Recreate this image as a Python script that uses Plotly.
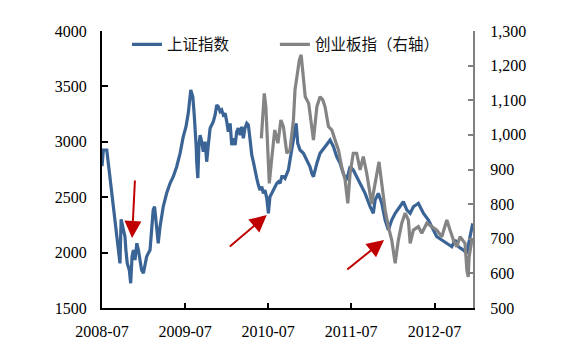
import plotly.graph_objects as go

# 上证指数 (left axis)
sh_dates = [
    "2008-07-01", "2008-07-07", "2008-07-22", "2008-07-29", "2008-08-05", "2008-08-13", "2008-08-20",
    "2008-08-27", "2008-09-04", "2008-09-11", "2008-09-18", "2008-09-23", "2008-10-03", "2008-10-10",
    "2008-10-14", "2008-10-20", "2008-10-29", "2008-11-04", "2008-11-10", "2008-11-16", "2008-11-23",
    "2008-12-01", "2008-12-08", "2008-12-15", "2008-12-22", "2008-12-30", "2009-01-06", "2009-01-13",
    "2009-01-20", "2009-01-28", "2009-02-04", "2009-02-11", "2009-02-17", "2009-02-22", "2009-02-26",
    "2009-03-05", "2009-03-13", "2009-03-27", "2009-04-11", "2009-04-26", "2009-05-10", "2009-05-25",
    "2009-06-09", "2009-06-23", "2009-07-05", "2009-07-15", "2009-07-26", "2009-08-04", "2009-08-10",
    "2009-08-14", "2009-08-19", "2009-08-21", "2009-08-26", "2009-08-31", "2009-09-05", "2009-09-12",
    "2009-09-19", "2009-09-27", "2009-10-04", "2009-10-11", "2009-10-19", "2009-11-02", "2009-11-10",
    "2009-11-17", "2009-11-24", "2009-12-02", "2009-12-09", "2009-12-16", "2009-12-24", "2009-12-31",
    "2010-01-07", "2010-01-15", "2010-01-22", "2010-01-29", "2010-02-06", "2010-02-13", "2010-02-20",
    "2010-02-28", "2010-03-07", "2010-03-14", "2010-03-21", "2010-03-29", "2010-04-05", "2010-04-12",
    "2010-04-20", "2010-04-27", "2010-05-04", "2010-05-12", "2010-05-19", "2010-05-26", "2010-06-03",
    "2010-06-10", "2010-06-17", "2010-06-25", "2010-07-02", "2010-07-09", "2010-07-17", "2010-07-24",
    "2010-07-31", "2010-08-08", "2010-08-15", "2010-08-22", "2010-08-30", "2010-09-06", "2010-09-13",
    "2010-09-21", "2010-09-28", "2010-10-05", "2010-10-13", "2010-10-20", "2010-10-27", "2010-11-01",
    "2010-11-08", "2010-11-18", "2010-12-03", "2010-12-18", "2011-01-01", "2011-01-09", "2011-01-16",
    "2011-01-31", "2011-02-14", "2011-03-08", "2011-03-30", "2011-04-14", "2011-04-28", "2011-05-13",
    "2011-05-27", "2011-06-11", "2011-06-26", "2011-07-10", "2011-08-01", "2011-08-16", "2011-08-31",
    "2011-09-22", "2011-10-06", "2011-10-14", "2011-10-28", "2011-11-12", "2011-11-27", "2011-12-11",
    "2011-12-26", "2012-01-10", "2012-02-01", "2012-02-15", "2012-03-01", "2012-03-16", "2012-03-30",
    "2012-04-21", "2012-05-13", "2012-06-04", "2012-06-26", "2012-07-11", "2012-08-02", "2012-08-24",
    "2012-09-15", "2012-09-29", "2012-10-14", "2012-11-05", "2012-11-20", "2012-12-04", "2012-12-16",
]
sh_values = [
    2780, 2926, 2926, 2806, 2655, 2505, 2414,
    2264, 2144, 2053, 1903, 2300, 2204, 2144,
    2023, 1903, 1843, 1723, 1963, 2023, 1933,
    2084, 2023, 1903, 1843, 1813, 1903, 1963,
    1993, 2023, 2204, 2385, 2414, 2324, 2204,
    2084, 2234, 2414, 2535, 2625, 2685, 2775,
    2896, 3046, 3136, 3257, 3468, 3407, 3250,
    3152, 2950, 2820, 2673, 2970, 3060, 3001,
    2911, 3001, 2820, 2971, 3122, 3182, 3242,
    3332, 3317, 3272, 3287, 3242, 3257, 3182,
    3091, 3167, 2971, 3031, 2971, 3091, 3122,
    3061, 3136, 3031, 3122, 3167, 3152, 3031,
    2881, 2820, 2730, 2670, 2610, 2565, 2595,
    2535, 2565, 2490, 2355, 2505, 2535, 2565,
    2595, 2625, 2640, 2625, 2685, 2685, 2670,
    2715, 2746, 2836, 2926, 3016, 3107, 3167,
    2986, 2926, 2896, 2836, 2775, 2715, 2685,
    2806, 2896, 2956, 3016, 2956, 2866, 2806,
    2715, 2655, 2775, 2746, 2655, 2595, 2535,
    2414, 2354, 2475, 2535, 2445, 2294, 2204,
    2294, 2355, 2414, 2459, 2385, 2355, 2414,
    2445, 2355, 2294, 2204, 2144, 2114, 2084,
    2053, 2114, 2053, 2023, 1993, 2144, 2264,
]

# 创业板指 (right axis)
cy_dates = [
    "2010-06-01", "2010-06-08", "2010-06-14", "2010-06-21", "2010-06-28", "2010-07-02", "2010-07-06",
    "2010-07-16", "2010-07-30", "2010-08-13", "2010-08-26", "2010-09-06", "2010-09-21", "2010-10-05",
    "2010-10-20", "2010-10-27", "2010-11-05", "2010-11-15", "2010-11-23", "2010-12-01", "2010-12-11",
    "2010-12-26", "2011-01-16", "2011-01-31", "2011-02-14", "2011-02-26", "2011-03-08", "2011-03-23",
    "2011-04-07", "2011-04-21", "2011-05-06", "2011-05-20", "2011-06-04", "2011-06-16", "2011-06-26",
    "2011-07-10", "2011-07-25", "2011-08-09", "2011-08-23", "2011-09-07", "2011-09-22", "2011-09-29",
    "2011-10-06", "2011-10-21", "2011-10-31", "2011-11-12", "2011-11-27", "2011-12-11", "2011-12-26",
    "2012-01-10", "2012-01-24", "2012-02-08", "2012-02-23", "2012-03-08", "2012-03-16", "2012-03-30",
    "2012-04-21", "2012-05-06", "2012-05-28", "2012-06-19", "2012-07-11", "2012-08-02", "2012-08-24",
    "2012-09-07", "2012-09-22", "2012-10-07", "2012-10-21", "2012-11-12", "2012-11-20", "2012-11-26",
    "2012-11-30", "2012-12-12", "2012-12-16",
]
cy_values = [
    990, 1060, 1120, 1081, 966, 870, 860,
    927, 1014, 976, 1043, 1024, 947, 956,
    1043, 1130, 1168, 1216, 1231, 1178, 1110,
    1091, 985, 1081, 1110, 1101, 1081, 1024,
    1014, 985, 956, 908, 870, 802, 889,
    947, 947, 899, 937, 889, 820, 800,
    831, 889, 922, 860, 783, 735, 696,
    629, 696, 745, 774, 754, 687, 725,
    735, 716, 745, 735, 725, 706, 754,
    725, 696, 677, 706, 687, 610, 590,
    648, 696, 700,
]

# red arrows (tail -> head)
arrow_tail_dates = ["2008-11-23", "2010-01-07", "2011-06-07"]
arrow_tail_values = [2664, 2044, 1837]
arrow_head_dates = ["2008-11-10", "2010-06-25", "2011-11-22"]
arrow_head_values = [2132, 2339, 2114]

x_range = ["2008-07-01", "2012-12-17"]
left_range = [1500, 4000]
right_range = [500, 1300]

BLUE = "#3A6495"
GRAY = "#848484"
RED = "#C00000"
SERIF = "Liberation Serif"
tick_font = dict(family=SERIF, size=16, color="#000000")
legend_font = dict(family="Noto Sans CJK SC", size=15.5, color="#111111")

fig = go.Figure()
fig.add_trace(go.Scatter(x=sh_dates, y=sh_values, name="上证指数", mode="lines",
                         line=dict(color=BLUE, width=3.2), yaxis="y", legend="legend"))
fig.add_trace(go.Scatter(x=cy_dates, y=cy_values, name="创业板指（右轴）", mode="lines",
                         line=dict(color=GRAY, width=3.2), yaxis="y2", legend="legend2"))

for td, tv, hd, hv in zip(arrow_tail_dates, arrow_tail_values, arrow_head_dates, arrow_head_values):
    fig.add_annotation(x=hd, y=hv, ax=td, ay=tv, xref="x", yref="y", axref="x", ayref="y",
                       text="", showarrow=True, arrowhead=2, arrowsize=1.7, arrowwidth=2,
                       arrowcolor=RED, standoff=0, startstandoff=0)

fig.update_layout(
    width=575, height=352,
    margin=dict(l=102, r=102, t=31, b=44),
    paper_bgcolor="white", plot_bgcolor="white",
    font=dict(family=SERIF, size=16, color="#000000"),
    showlegend=True,
    legend=dict(orientation="h", x=0.0674, y=0.95, xanchor="left", yanchor="middle",
                font=legend_font, bgcolor="rgba(0,0,0,0)"),
    legend2=dict(orientation="h", x=0.466, y=0.95, xanchor="left", yanchor="middle",
                 font=legend_font, bgcolor="rgba(0,0,0,0)"),
    xaxis=dict(type="date", range=x_range, dtick="M12", tick0="2008-07-01", tickformat="%Y-%m",
               showgrid=False, zeroline=False, showline=True, linecolor="#000000", linewidth=2,
               ticks="inside", ticklen=5, tickwidth=1.5, tickcolor="#000000",
               tickfont=tick_font, ticklabelstandoff=8),
    yaxis=dict(range=left_range, dtick=500, showgrid=False, zeroline=False, showline=True,
               linecolor="#000000", linewidth=2, ticks="inside", ticklen=6, tickwidth=1.5,
               tickcolor="#000000", tickfont=tick_font, ticklabelstandoff=10),
    yaxis2=dict(range=right_range, dtick=100, overlaying="y", side="right", tickformat=",",
                showgrid=False, zeroline=False, showline=True, linecolor="#808080", linewidth=2,
                ticks="inside", ticklen=5, tickwidth=1.5, tickcolor="#808080",
                tickfont=tick_font, ticklabelstandoff=12),
)

fig.write_html("out.html")
